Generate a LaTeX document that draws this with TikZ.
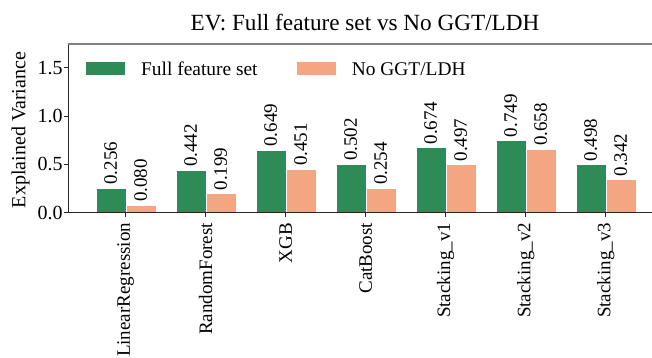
\documentclass[tikz,border=0pt]{standalone}
\usepackage{fontspec}
\setmainfont{Liberation Serif}
\definecolor{fullgreen}{HTML}{2E8B57}
\definecolor{nosalmon}{HTML}{F4A582}
\definecolor{spinegray}{HTML}{808080}
\begin{document}
\begin{tikzpicture}[x=1pt,y=-1pt,
  fullbar/.style={fill=fullgreen},
  nobar/.style={fill=nosalmon},
  txt/.style={inner sep=0pt, font=\fontsize{19}{19}\selectfont},
  vallabel/.style={txt, rotate=90, anchor=west},
  catlabel/.style={txt, rotate=90, anchor=east},
  yticklabel/.style={inner sep=0pt, anchor=east, font=\fontsize{20}{20}\selectfont},
  legendlabel/.style={inner sep=0pt, anchor=base west, font=\fontsize{19.4}{19.4}\selectfont},
  spine/.style={draw=black!85, line width=1pt},
  tickmark/.style={draw=black!85, line width=0.9pt}]
\useasboundingbox (0,0) rectangle (652,358);

% title and axis label
\node[inner sep=0pt, anchor=base, font=\fontsize{23.2}{23.2}\selectfont] (title) at (365,31) {EV: Full feature set vs No GGT/LDH};
\node[inner sep=0pt, rotate=90, anchor=center, font=\fontsize{20}{20}\selectfont] (ylabel) at (20.5,130) {Explained Variance};

% y ticks: value v sits at y = 212.7 - 96.7 v
\foreach \k/\v/\lab in {0/0/0.0, 1/0.5/0.5, 2/1.0/1.0, 3/1.5/1.5} {
  \coordinate (yt\k) at (68,{212.7-96.7*\v});
  \draw[tickmark] (yt\k) -- ++(-4.5,0) coordinate (ytl\k);
  \node[yticklabel] (ytn\k) at ([xshift=-0.8pt]ytl\k) {\lab};
}

% bars, value labels and category labels
\foreach \i/\name/\a/\b in {0/LinearRegression/0.256/0.080, 1/RandomForest/0.442/0.199,
    2/XGB/0.649/0.451, 3/CatBoost/0.502/0.254, 4/Stacking\_v1/0.674/0.497,
    5/Stacking\_v2/0.749/0.658, 6/Stacking\_v3/0.498/0.342} {
  \pgfmathsetmacro{\xc}{125.7+80*\i}
  \fill[fullbar] ({\xc-30},212.7) rectangle (\xc,{212.7-96.7*\a});
  \fill[nobar] (\xc,212.7) rectangle ({\xc+30},{212.7-96.7*\b});
  \draw[draw=white, line width=0.4pt] ({\xc-30},212.7) rectangle (\xc,{212.7-96.7*\a});
  \draw[draw=white, line width=0.4pt] (\xc,212.7) rectangle ({\xc+30},{212.7-96.7*\b});
  \node[vallabel] (va\i) at ({\xc-15},{212.7-96.7*\a-3}) {\a};
  \node[vallabel] (vb\i) at ({\xc+15},{212.7-96.7*\b-3}) {\b};
  \coordinate (xt\i) at (\xc,212.7);
  \draw[tickmark] (xt\i) -- ++(0,4.5) coordinate (xtl\i);
  \node[catlabel] (cat\i) at ([yshift=-5.5pt]xtl\i) {\name};
}

% spines
\draw[spine] (68,43.8) -- (68,212.7) -- (652,212.7);
\draw[draw=spinegray, line width=2pt] (67.5,43.8) -- (652,43.8);

% legend
\fill[fullgreen] (86,62) rectangle (125,75);
\node[legendlabel] (leg1) at (141,76) {Full feature set};
\fill[nosalmon] (297.3,62) rectangle (336,75);
\node[legendlabel] (leg2) at (351.7,76) {No GGT/LDH};
\end{tikzpicture}
\end{document}
